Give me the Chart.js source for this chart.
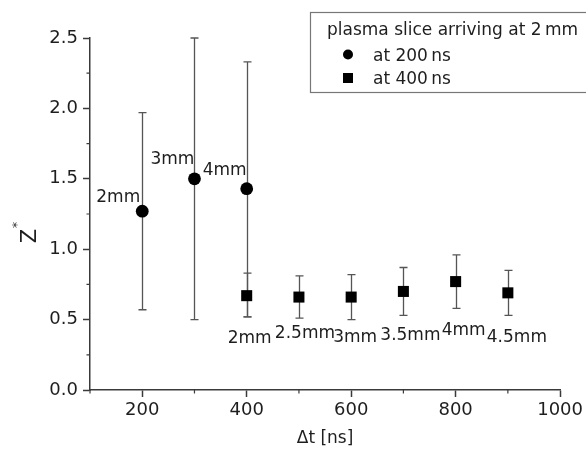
<!DOCTYPE html>
<html>
<head>
<meta charset="utf-8">
<script src="https://cdn.jsdelivr.net/npm/chart.js@4/dist/chart.umd.min.js"></script>
<style>
  html, body { margin: 0; padding: 0; background: #fff; }
  #c { display: block; }
</style>
</head>
<body>
<canvas id="c" width="586" height="449"></canvas>
<script>
// Plasma slice arriving at 2 mm, observed at 200 ns
const delayA = [200, 300, 400];
const zA     = [1.27, 1.50, 1.43];
const zALow  = [0.57, 0.50, 0.52];
const zAHigh = [1.97, 2.50, 2.33];
const labelsA = ['2mm', '3mm', '4mm'];

// Plasma slice arriving at 2 mm, observed at 400 ns
const delayB = [400, 500, 600, 700, 800, 900];
const zB     = [0.67, 0.66, 0.66, 0.70, 0.77, 0.69];
const zBLow  = [0.52, 0.51, 0.50, 0.53, 0.58, 0.53];
const zBHigh = [0.83, 0.81, 0.82, 0.87, 0.96, 0.85];
const labelsB = ['2mm', '2.5mm', '3mm', '3.5mm', '4mm', '4.5mm'];

// Labelled ticks
const xTickLabels = [200, 400, 600, 800, 1000];
const yTickLabels = [0.0, 0.5, 1.0, 1.5, 2.0, 2.5];

const FONT = "'DejaVu Sans', 'Liberation Sans', sans-serif";
const TEXT = '#1e1e1e';
const AXIS = '#3a3a3a';

// Pixel offsets (dx, baseline dy) of the position labels from their points
const labelShiftA = [[-24, -9], [-22, -15], [-22, -14]];
const labelShiftB = [[3, 47], [6, 41], [4, 45], [7, 49], [8, 53], [9, 49]];

const isXMajor = v => xTickLabels.includes(v);
const isYMajor = v => yTickLabels.some(t => Math.abs(t - v) < 1e-9);

const errorBars = {
  id: 'errorBars',
  beforeDatasetsDraw(chart) {
    const { ctx, scales: { x, y } } = chart;
    ctx.save();
    ctx.strokeStyle = '#555';
    ctx.lineWidth = 1.3;
    const draw = (xs, lo, hi) => {
      xs.forEach((v, i) => {
        const px = Math.round(x.getPixelForValue(v)) + 0.5;
        const y1 = y.getPixelForValue(lo[i]);
        const y2 = y.getPixelForValue(hi[i]);
        ctx.beginPath();
        ctx.moveTo(px, y1); ctx.lineTo(px, y2);
        ctx.moveTo(px - 4, y1); ctx.lineTo(px + 4, y1);
        ctx.moveTo(px - 4, y2); ctx.lineTo(px + 4, y2);
        ctx.stroke();
      });
    };
    draw(delayA, zALow, zAHigh);
    draw(delayB, zBLow, zBHigh);
    ctx.restore();
  }
};

const decorations = {
  id: 'decorations',
  afterDraw(chart) {
    const { ctx, scales: { x, y }, chartArea } = chart;
    ctx.save();

    // minor tick marks
    ctx.strokeStyle = AXIS;
    ctx.lineWidth = 1.2;
    ctx.beginPath();
    x.ticks.forEach(t => {
      if (!isXMajor(t.value)) {
        const px = x.getPixelForValue(t.value);
        ctx.moveTo(px, chartArea.bottom); ctx.lineTo(px, chartArea.bottom + 3.5);
      }
    });
    y.ticks.forEach(t => {
      if (!isYMajor(t.value)) {
        const py = y.getPixelForValue(t.value);
        ctx.moveTo(chartArea.left, py); ctx.lineTo(chartArea.left - 3.5, py);
      }
    });
    ctx.stroke();

    // position labels next to the points
    ctx.fillStyle = TEXT;
    ctx.font = `17px ${FONT}`;
    ctx.textAlign = 'center';
    ctx.textBaseline = 'alphabetic';
    delayA.forEach((v, i) => {
      ctx.fillText(labelsA[i], x.getPixelForValue(v) + labelShiftA[i][0], y.getPixelForValue(zA[i]) + labelShiftA[i][1]);
    });
    delayB.forEach((v, i) => {
      ctx.fillText(labelsB[i], x.getPixelForValue(v) + labelShiftB[i][0], y.getPixelForValue(zB[i]) + labelShiftB[i][1]);
    });

    // y axis title: Z with a raised asterisk
    ctx.save();
    ctx.translate(31, 236);
    ctx.rotate(-Math.PI / 2);
    ctx.font = `21px ${FONT}`;
    ctx.textAlign = 'center';
    ctx.textBaseline = 'middle';
    ctx.fillText('Z', 0, 0);
    ctx.font = `13px ${FONT}`;
    ctx.textBaseline = 'alphabetic';
    ctx.fillText('*', 11, -10);
    ctx.restore();

    // legend box
    ctx.strokeStyle = '#777';
    ctx.lineWidth = 1.2;
    ctx.strokeRect(310.5, 12.5, 290, 80);
    ctx.font = `17px ${FONT}`;
    ctx.textAlign = 'left';
    ctx.textBaseline = 'alphabetic';
    ctx.fillStyle = TEXT;
    ctx.fillText('plasma slice arriving at 2\u2009mm', 327, 35);
    ctx.fillText('at 200\u2009ns', 373, 60.5);
    ctx.fillText('at 400\u2009ns', 373, 84);
    ctx.fillStyle = '#000';
    ctx.beginPath();
    ctx.arc(348, 54.5, 5, 0, Math.PI * 2);
    ctx.fill();
    ctx.fillRect(343, 73, 10, 10);

    ctx.restore();
  }
};

new Chart(document.getElementById('c'), {
  type: 'scatter',
  data: {
    datasets: [
      {
        label: 'at 200 ns',
        data: delayA.map((v, i) => ({ x: v, y: zA[i] })),
        pointStyle: 'circle',
        pointRadius: 6.4,
        borderWidth: 0,
        backgroundColor: '#000',
        borderColor: '#000'
      },
      {
        label: 'at 400 ns',
        data: delayB.map((v, i) => ({ x: v, y: zB[i] })),
        pointStyle: 'rect',
        pointRadius: 7.8,
        borderWidth: 0,
        backgroundColor: '#000',
        borderColor: '#000'
      }
    ]
  },
  options: {
    responsive: false,
    animation: false,
    events: [],
    layout: { padding: { left: 0, top: 38, right: 24, bottom: 0 } },
    plugins: { legend: { display: false }, tooltip: { enabled: false } },
    scales: {
      x: {
        type: 'linear',
        min: 100, max: 1000,
        afterFit: s => { s.height = 59; },
        border: { color: AXIS, width: 1.5 },
        grid: {
          drawOnChartArea: false,
          drawTicks: true,
          tickLength: 7,
          tickWidth: 1.5,
          tickColor: c => (c.tick && isXMajor(c.tick.value)) ? AXIS : 'rgba(0,0,0,0)'
        },
        ticks: {
          stepSize: 100,
          autoSkip: false,
          maxRotation: 0,
          padding: 3,
          color: TEXT,
          font: { family: FONT, size: 18 },
          callback: v => isXMajor(v) ? String(v) : ''
        },
        title: {
          display: true,
          text: '\u0394t [ns]',
          color: TEXT,
          font: { family: FONT, size: 17 },
          padding: { top: 0, bottom: 0 }
        }
      },
      y: {
        type: 'linear',
        min: 0, max: 2.5,
        afterFit: s => { s.width = 90; },
        border: { color: AXIS, width: 1.5 },
        grid: {
          drawOnChartArea: false,
          drawTicks: true,
          tickLength: 7,
          tickWidth: 1.5,
          tickColor: c => (c.tick && isYMajor(c.tick.value)) ? AXIS : 'rgba(0,0,0,0)'
        },
        ticks: {
          stepSize: 0.25,
          autoSkip: false,
          padding: 5,
          color: TEXT,
          font: { family: FONT, size: 18 },
          callback: v => isYMajor(v) ? v.toFixed(1) : ''
        }
      }
    }
  },
  plugins: [errorBars, decorations]
});
</script>
</body>
</html>
